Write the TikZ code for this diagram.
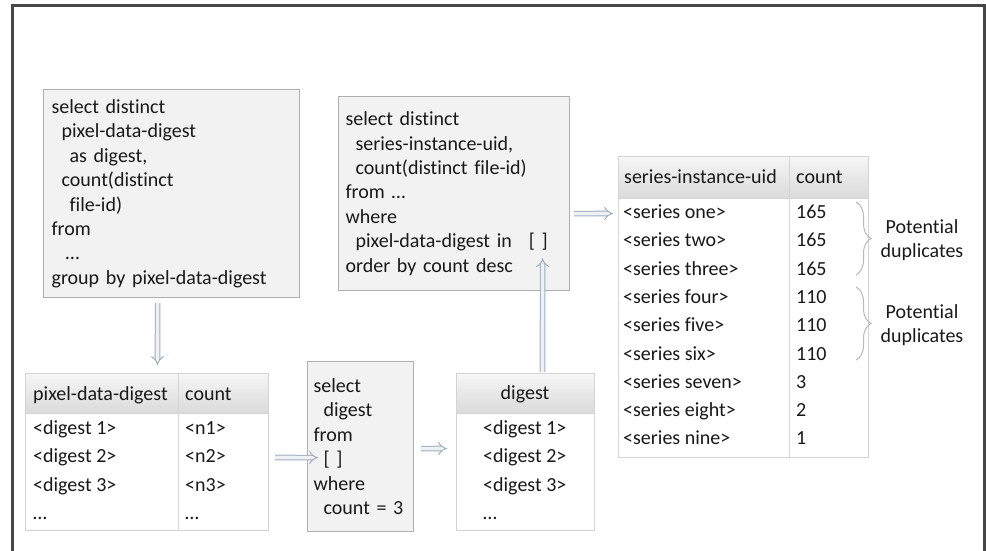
\documentclass[tikz,border=0pt]{standalone}
\usepackage{fontspec}
\setmainfont{Carlito}[Ligatures=NoCommon]
\usetikzlibrary{arrows.meta,decorations.pathreplacing,calc}

\definecolor{framegray}{RGB}{70,70,70}
\definecolor{boxfill}{RGB}{242,242,242}
\definecolor{boxline}{RGB}{175,175,175}
\definecolor{cellline}{RGB}{212,212,212}
\definecolor{headtop}{RGB}{246,246,246}
\definecolor{headbot}{RGB}{218,218,218}
\definecolor{inktext}{RGB}{25,25,25}
\definecolor{arrowline}{RGB}{160,172,190}
\definecolor{arrowfill}{RGB}{238,242,247}
\definecolor{bracegray}{RGB}{185,185,185}

\begin{document}
\begin{tikzpicture}[x=1pt,y=-1pt,
  every node/.style={text=inktext, font=\fontsize{20}{24.4}\selectfont},
  query/.style={draw=boxline, fill=boxfill, line width=1.2pt, anchor=north west,
    align=left, inner ysep=0pt},
  tablebody/.style={draw=cellline, fill=white, line width=1pt, anchor=north west, inner sep=0pt},
  tablehead/.style={draw=cellline, top color=headtop, bottom color=headbot,
    line width=1pt, anchor=north west, inner sep=0pt},
  cell/.style={anchor=west, inner sep=0pt, text height=14pt, text depth=4pt},
  hollow/.style={draw=arrowline, double=arrowfill, double distance=3.6pt, line width=1pt,
    -{Implies}},
  curly/.style={draw=bracegray, line width=1pt, decorate, decoration={brace, amplitude=15pt}}
]
\useasboundingbox (0,0) rectangle (986,551);

% outer frame, open at the bottom
\draw[framegray, line width=3pt] (12,552) -- (12,6) -- (984,6) -- (984,552);

% query boxes
\node[query, minimum width=256pt, minimum height=208pt, inner xsep=8pt, text width=240pt] (q1) at (43,89)
  {select distinct\\
   \hspace*{10pt}pixel-data-digest\\
   \hspace*{18pt}as digest,\\
   \hspace*{10pt}count(distinct\\
   \hspace*{18pt}file-id)\\
   from\\
   \hspace*{14pt}…\\
   group by pixel-data-digest};

\node[query, minimum width=231pt, minimum height=194pt, inner xsep=7pt, text width=217pt] (q2) at (338,96)
  {select distinct\\
   \hspace*{10pt}series-instance-uid,\\
   \hspace*{10pt}count(distinct file-id)\\
   from …\\
   where\\
   \hspace*{10pt}pixel-data-digest in\hspace{17pt}[ ]\\
   order by count desc};

\node[query, minimum width=106pt, minimum height=170pt, inner xsep=6pt, text width=94pt] (q3) at (307,361)
  {select\\
   \hspace*{10pt}digest\\
   from\\
   \hspace*{10pt}[ ]\\
   where\\
   \hspace*{10pt}count = 3};

% table: pixel-data-digest / count
\node[tablebody, minimum width=243pt, minimum height=157pt] (t1) at (25,373) {};
\node[tablehead, minimum width=243pt, minimum height=40pt] (t1h) at (25,373) {};
\draw[cellline, line width=1pt] (178,373) -- (178,530);
\node[cell] (t1ha) at (33,395) {pixel-data-digest};
\node[cell] (t1hb) at (185,395) {count};
\foreach \d/\n [count=\i] in {<digest 1>/<n1>, <digest 2>/<n2>, <digest 3>/<n3>, …/…} {
  \node[cell] (t1a\i) at (33,400.5+28.5*\i) {\d};
  \node[cell] (t1b\i) at (185,400.5+28.5*\i) {\n};
}

% table: digest
\node[tablebody, minimum width=138pt, minimum height=157pt] (t2) at (456,373) {};
\node[tablehead, minimum width=138pt, minimum height=40pt] (t2h) at (456,373) {};
\node[cell, anchor=center] (t2ha) at (525,394) {digest};
\foreach \d [count=\i] in {<digest 1>, <digest 2>, <digest 3>, …} {
  \node[cell] (t2a\i) at (483,400.5+28.5*\i) {\d};
}

% table: series-instance-uid / count
\node[tablebody, minimum width=250pt, minimum height=301pt] (t3) at (618,156) {};
\node[tablehead, minimum width=250pt, minimum height=42pt] (t3h) at (618,156) {};
\draw[cellline, line width=1pt] (789,156) -- (789,457);
\node[cell] (t3ha) at (624,178) {series-instance-uid};
\node[cell] (t3hb) at (796,178) {count};
\foreach \nm/\ct [count=\i] in {one/165, two/165, three/165, four/110, five/110,
                                six/110, seven/3, eight/2, nine/1} {
  \node[cell] (t3a\i) at (623,185.2+28.3*\i) {<series \nm>};
  \node[cell] (t3b\i) at (796,185.2+28.3*\i) {\ct};
}

% braces grouping the equal counts
\draw[curly] (856,202) -- (856,275);
\draw[curly] (856,287) -- (856,360);
\node[align=center, inner sep=0pt] (pd1) at (922,240) {Potential\\duplicates};
\node[align=center, inner sep=0pt] (pd2) at (922,325) {Potential\\duplicates};

% data flow
\draw[hollow] ([xshift=-14pt,yshift=-5pt]q1.south) -- ([xshift=10.5pt,yshift=8pt]t1.north);
\draw[hollow] ([xshift=6pt,yshift=-5.5pt]t1.east) -- ([xshift=11pt,yshift=-11pt]q3.west);
\draw[hollow] ([xshift=7pt,yshift=-2pt]q3.east) -- ([xshift=-9pt,yshift=3.5pt]t2.west);
\draw[hollow] ([xshift=17pt,yshift=1pt]t2.north) -- ([xshift=88.5pt,yshift=33pt]q2.south);
\draw[hollow] ([xshift=4pt,yshift=-20pt]q2.east) -- ([xshift=-5pt,yshift=93.5pt]t3.west);
\end{tikzpicture}
\end{document}
